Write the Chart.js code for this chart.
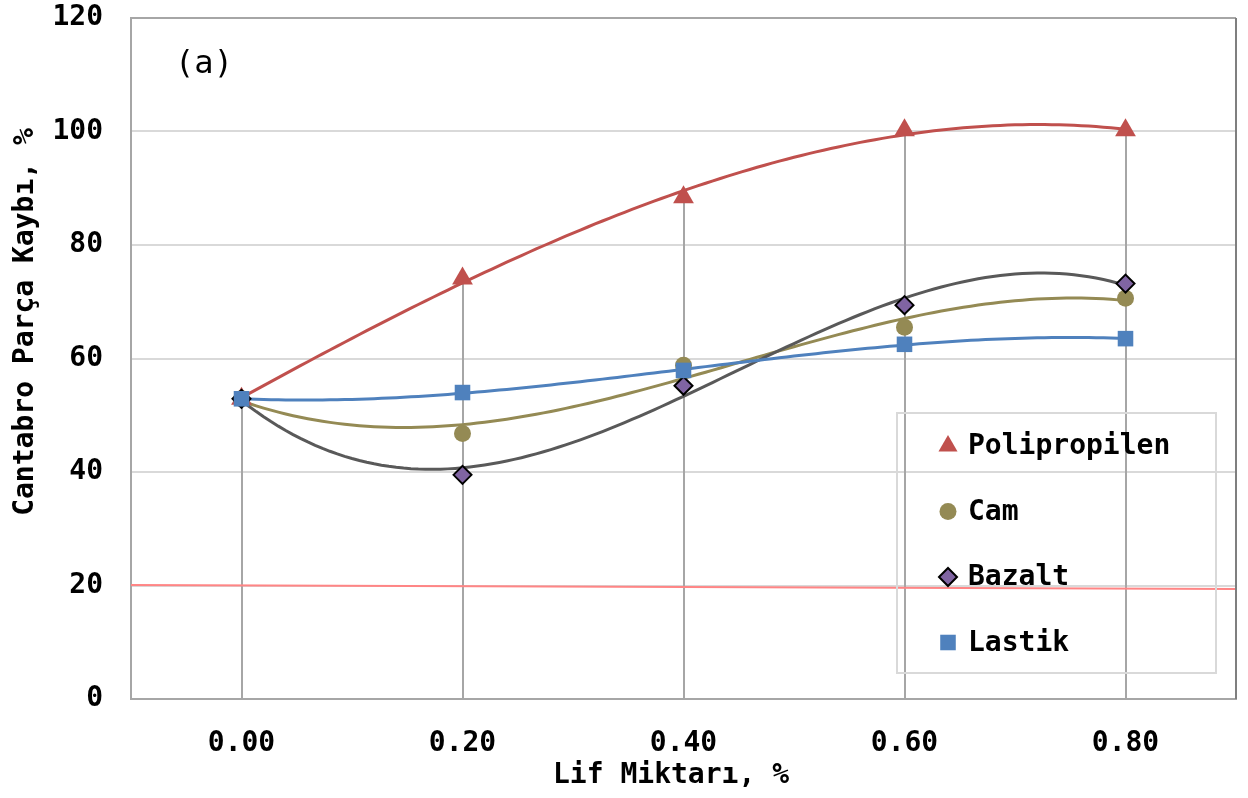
<!DOCTYPE html>
<html>
<head>
<meta charset="utf-8">
<script src="https://cdn.jsdelivr.net/npm/chart.js@4.4.1/dist/chart.umd.min.js"></script>
<style>
  body { margin: 0; background: #fff; }
  canvas { display: block; }
</style>
</head>
<body>
<canvas id="chart" width="1248" height="798"></canvas>
<script>
const fiberAmount = [0.00, 0.20, 0.40, 0.60, 0.80]

const seriesNames = ["Polipropilen", "Cam", "Bazalt", "Lastik"]
const polipropilen = [52.9, 74.1, 88.4, 100.2, 100.2]
const cam = [52.9, 46.8, 58.8, 65.5, 70.6]
const bazalt = [52.9, 39.5, 55.2, 69.4, 73.2]
const lastik = [52.9, 54.0, 57.9, 62.5, 63.5]

const xTicks = [0.00, 0.20, 0.40, 0.60, 0.80]
const yTicks = [0, 20, 40, 60, 80, 100, 120]

// limit line across the plot
const limitX = [-0.1, 0.9]
const limitY = [20.1, 19.4]

const FONT = "'DejaVu Sans Mono', monospace"

const styles = [
    { color: "#c0504d", line: "#c0504d", shape: "triangle", radius: 12, border: "#c0504d", borderWidth: 0 },
    { color: "#948a54", line: "#948a54", shape: "circle", radius: 8.5, border: "#948a54", borderWidth: 0 },
    { color: "#8064a2", line: "#595959", shape: "rectRot", radius: 9, border: "#000000", borderWidth: 2 },
    { color: "#4f81bd", line: "#4f81bd", shape: "rect", radius: 11, border: "#4f81bd", borderWidth: 0 }
]

const allSeries = [polipropilen, cam, bazalt, lastik]


// least squares cubic, like the spreadsheet's polynomial trendline
function cubicFit(xs, ys){
    const n = 4
    const A = []
    for(let i = 0; i < n; i++){
        A.push(new Array(n + 1).fill(0))
    }
    xs.forEach((x, k) => {
        for(let i = 0; i < n; i++){
            for(let j = 0; j < n; j++){
                A[i][j] += Math.pow(x, i + j)
            }
            A[i][n] += ys[k] * Math.pow(x, i)
        }
    })
    for(let c = 0; c < n; c++){
        let p = c
        for(let r = c + 1; r < n; r++){
            if(Math.abs(A[r][c]) > Math.abs(A[p][c])) p = r
        }
        const tmp = A[c]; A[c] = A[p]; A[p] = tmp
        for(let r = 0; r < n; r++){
            if(r === c) continue
            const f = A[r][c] / A[c][c]
            for(let k = c; k <= n; k++) A[r][k] -= f * A[c][k]
        }
    }
    return A.map((row, i) => row[n] / A[i][i])
}

function trendPoints(ys){
    const coef = cubicFit(fiberAmount, ys)
    const pts = []
    const x0 = fiberAmount[0]
    const x1 = fiberAmount[fiberAmount.length - 1]
    const steps = 120
    for(let s = 0; s <= steps; s++){
        const x = x0 + (x1 - x0) * s / steps
        const y = coef[0] + coef[1]*x + coef[2]*x*x + coef[3]*x*x*x
        pts.push({ x, y })
    }
    return pts
}


const datasets = []

allSeries.forEach((ys, i) => {
    const st = styles[i]
    datasets.push({
        label: seriesNames[i],
        data: fiberAmount.map((x, k) => ({ x, y: ys[k] })),
        showLine: false,
        pointStyle: st.shape,
        pointRadius: st.radius,
        pointHoverRadius: st.radius,
        backgroundColor: st.color,
        borderColor: st.border,
        borderWidth: st.borderWidth,
        order: 10 - i
    })
    datasets.push({
        label: seriesNames[i] + " trend",
        data: trendPoints(ys),
        showLine: true,
        pointRadius: 0,
        borderColor: st.line,
        borderWidth: 3,
        tension: 0,
        order: 20 - i
    })
})

datasets.push({
    label: "limit",
    data: limitX.map((x, k) => ({ x, y: limitY[k] })),
    showLine: true,
    pointRadius: 0,
    borderColor: "#ff8585",
    borderWidth: 2,
    order: 30
})


// vertical drop lines from the axis up to the highest marker
const dropLines = {
    id: "dropLines",
    beforeDatasetsDraw(chart){
        const { ctx, scales: { x, y } } = chart
        ctx.save()
        ctx.strokeStyle = "#a6a6a6"
        ctx.lineWidth = 2
        fiberAmount.forEach((fx, k) => {
            const top = Math.max(...allSeries.map(s => s[k]))
            const px = Math.round(x.getPixelForValue(fx))
            ctx.beginPath()
            ctx.moveTo(px, y.getPixelForValue(0))
            ctx.lineTo(px, y.getPixelForValue(top))
            ctx.stroke()
        })
        ctx.restore()
    }
}

// frame, legend box, panel tag and axis titles
const decorations = {
    id: "decorations",
    afterDraw(chart){
        const { ctx, chartArea: area } = chart
        ctx.save()

        ctx.strokeStyle = "#a6a6a6"
        ctx.lineWidth = 2
        ctx.beginPath()
        ctx.moveTo(area.left, area.top)
        ctx.lineTo(area.right, area.top)
        ctx.stroke()
        ctx.strokeStyle = "#7f7f7f"
        ctx.beginPath()
        ctx.moveTo(area.right, area.top)
        ctx.lineTo(area.right, area.bottom)
        ctx.stroke()

        // legend
        const lx = area.right - 339
        const ly = 413
        ctx.strokeStyle = "#d9d9d9"
        ctx.lineWidth = 2
        ctx.strokeRect(lx, ly, 319, 260)

        ctx.font = "bold 28px " + FONT
        ctx.textBaseline = "middle"
        ctx.textAlign = "left"
        seriesNames.forEach((name, i) => {
            const st = styles[i]
            const cy = ly + 33 + i * 65.5
            ctx.fillStyle = st.color
            ctx.strokeStyle = st.border
            ctx.lineWidth = st.borderWidth
            Chart.helpers.drawPoint(ctx, {
                pointStyle: st.shape,
                radius: i === 0 ? 11 : st.radius,
                borderWidth: st.borderWidth,
                rotation: 0
            }, lx + 51, cy)
            ctx.fillStyle = "#000"
            ctx.fillText(name, lx + 71, cy + 1)
        })

        ctx.fillStyle = "#000"
        ctx.textAlign = "center"
        ctx.font = "32px " + FONT
        ctx.fillText("(a)", 204, 65)

        ctx.font = "bold 28px " + FONT
        ctx.fillText("Lif Miktarı, %", 671, 776)

        ctx.translate(26, 322)
        ctx.rotate(-Math.PI / 2)
        ctx.fillText("Cantabro Parça Kaybı, %", 0, 0)

        ctx.restore()
    }
}


const ctx = document.getElementById("chart")

new Chart(ctx, {
    type: "scatter",
    data: { datasets },
    options: {
        responsive: false,
        animation: false,
        events: [],
        layout: {
            padding: { top: 18, right: 10, left: 0, bottom: 0 }
        },
        plugins: {
            legend: { display: false },
            tooltip: { enabled: false }
        },
        scales: {
            x: {
                type: "linear",
                min: -0.1,
                max: 0.9,
                afterBuildTicks: scale => {
                    scale.ticks = xTicks.map(v => ({ value: v }))
                },
                afterFit: scale => {
                    scale.height = 99
                    scale.paddingLeft = 0
                    scale.paddingRight = 0
                },
                grid: { display: false, drawTicks: false },
                border: { display: true, color: "#a6a6a6", width: 2 },
                ticks: {
                    padding: 28,
                    color: "#000",
                    font: { family: FONT, size: 28, weight: "bold" },
                    callback: v => Number(v).toFixed(2)
                }
            },
            y: {
                min: 0,
                max: 120,
                afterBuildTicks: scale => {
                    scale.ticks = yTicks.map(v => ({ value: v }))
                },
                afterFit: scale => {
                    scale.width = 131
                    scale.paddingTop = 0
                    scale.paddingBottom = 0
                },
                grid: { color: "#d9d9d9", lineWidth: 2, drawTicks: false },
                border: { display: true, color: "#a6a6a6", width: 2 },
                ticks: {
                    padding: 28,
                    color: "#000",
                    font: { family: FONT, size: 28, weight: "bold" }
                }
            }
        }
    },
    plugins: [dropLines, decorations]
})
</script>
</body>
</html>
